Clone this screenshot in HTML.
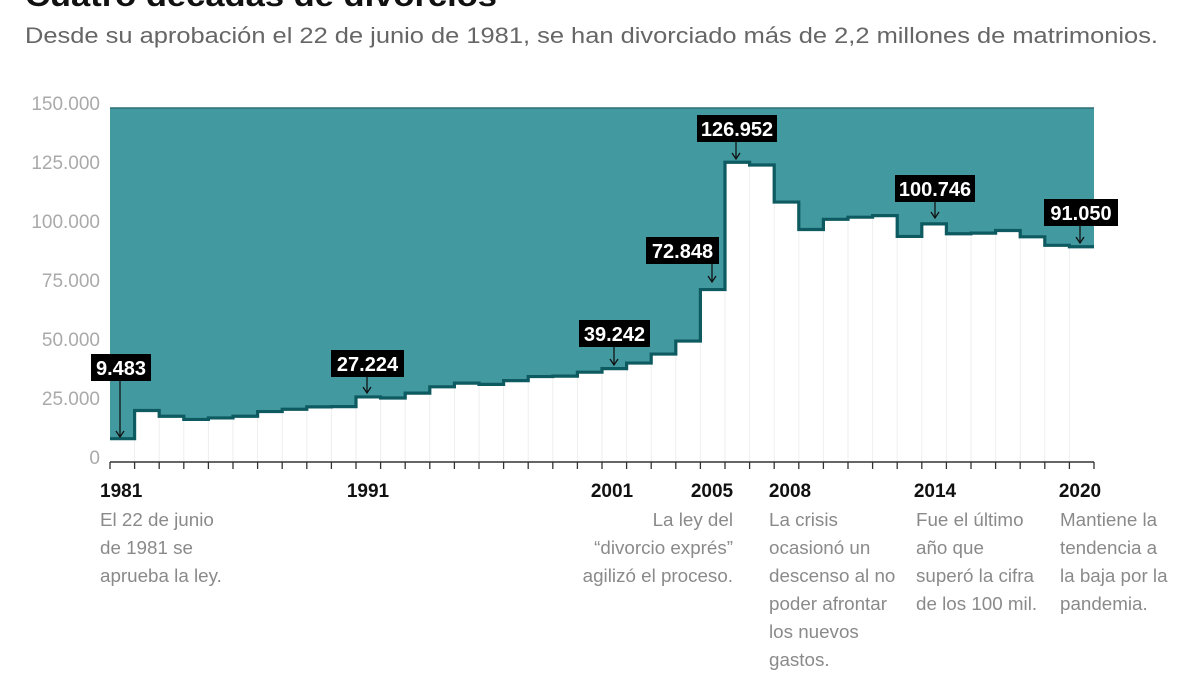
<!DOCTYPE html>
<html><head><meta charset="utf-8"><style>
body{margin:0;background:#fff;width:1200px;height:675px;overflow:hidden;font-family:"Liberation Sans",Arial,sans-serif}
</style></head><body>
<svg width="1200" height="675" xmlns="http://www.w3.org/2000/svg" font-family="Liberation Sans, Arial, sans-serif">
<text x="25" y="6" font-size="31" font-weight="bold" fill="#111" textLength="472" lengthAdjust="spacingAndGlyphs">Cuatro décadas de divorcios</text>
<text x="25" y="43" font-size="22" fill="#666" textLength="1133" lengthAdjust="spacingAndGlyphs">Desde su aprobación el 22 de junio de 1981, se han divorciado más de 2,2 millones de matrimonios.</text>
<g font-size="19" fill="#aaa" text-anchor="end">
<text x="100" y="110">150.000</text><text x="100" y="169">125.000</text><text x="100" y="228">100.000</text>
<text x="100" y="287">75.000</text><text x="100" y="346">50.000</text><text x="100" y="405">25.000</text><text x="100" y="464">0</text>
</g>
<rect x="110" y="108" width="984" height="354" fill="#429aa0"/>
<line x1="110" y1="108" x2="1094" y2="108" stroke="#2d6f74" stroke-width="1.5"/>
<g id="g"></g>
<line x1="110" y1="462" x2="1094" y2="462" stroke="#333" stroke-width="1.5"/>
<g id="lab"></g>
<g font-size="19" font-weight="bold" fill="#111">
<text x="100" y="497">1981</text><text x="368" y="497" text-anchor="middle">1991</text>
<text x="612" y="497" text-anchor="middle">2001</text><text x="712" y="497" text-anchor="middle">2005</text>
<text x="790" y="497" text-anchor="middle">2008</text><text x="935" y="497" text-anchor="middle">2014</text>
<text x="1080" y="497" text-anchor="middle">2020</text>
</g>
<g font-size="18.8" fill="#8a8a8a">
<text x="100" y="526">El 22 de junio</text><text x="100" y="554">de 1981 se</text><text x="100" y="582">aprueba la ley.</text>
<text x="733" y="526" text-anchor="end">La ley del</text><text x="733" y="554" text-anchor="end">“divorcio exprés”</text><text x="733" y="582" text-anchor="end">agilizó el proceso.</text>
<text x="769" y="526">La crisis</text><text x="769" y="554">ocasionó un</text><text x="769" y="582">descenso al no</text><text x="769" y="610">poder afrontar</text><text x="769" y="638">los nuevos</text><text x="769" y="666">gastos.</text>
<text x="916" y="526">Fue el último</text><text x="916" y="554">año que</text><text x="916" y="582">superó la cifra</text><text x="916" y="610">de los 100 mil.</text>
<text x="1060" y="526">Mantiene la</text><text x="1060" y="554">tendencia a</text><text x="1060" y="582">la baja por la</text><text x="1060" y="610">pandemia.</text>
</g>
</svg>
<script>
var d=[9483,21463,19000,17656,18291,19000,21000,22000,23000,23100,27224,26783,28854,31522,33104,32571,34147,35876,36072,37743,39242,41621,45448,50974,72848,126952,125777,110036,98359,102690,103604,104262,95427,100746,96562,96824,97960,95254,91645,91050];
var g=document.getElementById('g');
function y(v){return 461-v/150000*353}
var w=24.6,s='',p='M110 '+y(d[0]);
for(var i=0;i<40;i++){var x0=110+i*w,x1=x0+w;s+='<rect x="'+x0+'" y="'+y(d[i])+'" width="'+(w+0.5)+'" height="'+(462-y(d[i]))+'" fill="#fff"/>';
p+=' L'+x0+' '+y(d[i])+' L'+x1+' '+y(d[i]);}
for(var i=1;i<40;i++){var x=110+i*w;s+='<line x1="'+x+'" y1="'+y(d[i])+'" x2="'+x+'" y2="462" stroke="#eee"/>';}
for(var i=0;i<=40;i++){var x=110+i*w;s+='<line x1="'+x+'" y1="462" x2="'+x+'" y2="469" stroke="#333" stroke-width="1.3"/>';}
s+='<path d="'+p+'" fill="none" stroke="#0d5a60" stroke-width="3.2"/>';
g.innerHTML=s;
var L=[[91,354,60,'9.483',120,437],[331,350,73,'27.224',367,393],[579,320,71,'39.242',614,365],[646,237,73,'72.848',712,282],[697,115,80,'126.952',736,159],[895,175,80,'100.746',935,218],[1044,199,74,'91.050',1080,243]];
var t='';L.forEach(function(a){t+='<line x1="'+a[4]+'" y1="'+(a[1]+27)+'" x2="'+a[4]+'" y2="'+a[5]+'" stroke="#111" stroke-width="1.3"/><path d="M'+(a[4]-4)+' '+(a[5]-6)+' L'+a[4]+' '+a[5]+' L'+(a[4]+4)+' '+(a[5]-6)+'" fill="none" stroke="#111" stroke-width="1.3"/><rect x="'+a[0]+'" y="'+a[1]+'" width="'+a[2]+'" height="27" fill="#000"/><text x="'+(a[0]+a[2]/2)+'" y="'+(a[1]+21)+'" text-anchor="middle" font-size="20" font-weight="bold" fill="#fff">'+a[3]+'</text>';});
document.getElementById('lab').innerHTML=t;
</script>
</body></html>
